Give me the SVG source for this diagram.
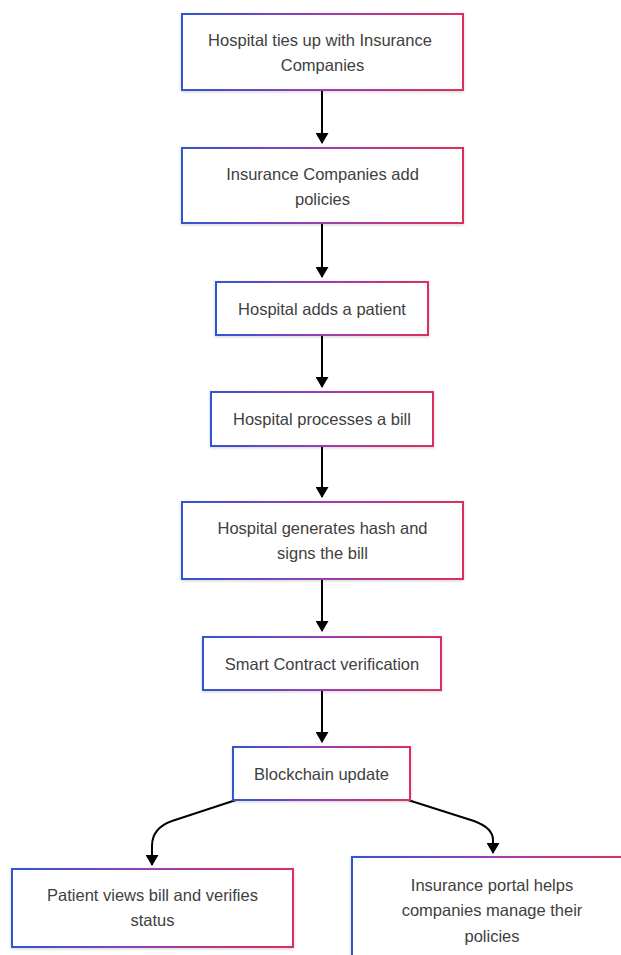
<svg xmlns="http://www.w3.org/2000/svg" width="621" height="955" viewBox="0 0 621 955">
  <defs>
    <linearGradient id="bd" x1="0" y1="0" x2="1" y2="0">
      <stop offset="0" stop-color="#2f55d4"/>
      <stop offset="0.5" stop-color="#9a3fb0"/>
      <stop offset="1" stop-color="#dc2f5c"/>
    </linearGradient>
    <filter id="sh" x="-10%" y="-20%" width="120%" height="140%">
      <feDropShadow dx="0" dy="1" stdDeviation="1.5" flood-color="#000" flood-opacity="0.18"/>
    </filter>
    <marker id="ah" viewBox="0 0 11 13" refX="10" refY="6.5" markerWidth="11" markerHeight="13" markerUnits="userSpaceOnUse" orient="auto">
      <path d="M0,0 L11,6.5 L0,13 Z" fill="#000"/>
    </marker>
    <style>
      .box { fill: #fff; stroke: url(#bd); stroke-width: 2; filter: url(#sh); }
      .t { font-family: "Liberation Sans", Arial, sans-serif; font-size: 16.5px; fill: #404040; text-anchor: middle; }
      .c { fill: none; stroke: #000; stroke-width: 2; marker-end: url(#ah); }
    </style>
  </defs>

  <g id="connectors">
    <path class="c" d="M322,90 L322,143"/>
    <path class="c" d="M322,223 L322,277"/>
    <path class="c" d="M322,335 L322,387"/>
    <path class="c" d="M322,446 L322,497"/>
    <path class="c" d="M322,579 L322,631"/>
    <path class="c" d="M322,690 L322,742"/>
    <path class="c" d="M236,800 L172,821 Q152,828 152,846 L152,865"/>
    <path class="c" d="M408,800 L474,821 Q493,828 493,840 L493,853"/>
  </g>

  <g id="n1">
    <rect class="box" x="182" y="14" width="281" height="76"/>
    <text class="t" x="320" y="46">Hospital ties up with Insurance</text>
    <text class="t" x="322.5" y="71">Companies</text>
  </g>
  <g id="n2">
    <rect class="box" x="182" y="148" width="281" height="75"/>
    <text class="t" x="322.5" y="180">Insurance Companies add</text>
    <text class="t" x="322.5" y="205">policies</text>
  </g>
  <g id="n3">
    <rect class="box" x="216" y="282" width="212" height="53"/>
    <text class="t" x="322" y="314.5">Hospital adds a patient</text>
  </g>
  <g id="n4">
    <rect class="box" x="211" y="392" width="222" height="54"/>
    <text class="t" x="322" y="425">Hospital processes a bill</text>
  </g>
  <g id="n5">
    <rect class="box" x="182" y="502" width="281" height="77"/>
    <text class="t" x="322.5" y="534">Hospital generates hash and</text>
    <text class="t" x="322.5" y="559">signs the bill</text>
  </g>
  <g id="n6">
    <rect class="box" x="203" y="637" width="238" height="53"/>
    <text class="t" x="322" y="669.5">Smart Contract verification</text>
  </g>
  <g id="n7">
    <rect class="box" x="233" y="747" width="177" height="53"/>
    <text class="t" x="321.5" y="779.5">Blockchain update</text>
  </g>
  <g id="n8">
    <rect class="box" x="12" y="869" width="281" height="78"/>
    <text class="t" x="152.5" y="901">Patient views bill and verifies</text>
    <text class="t" x="152.5" y="926">status</text>
  </g>
  <g id="n9">
    <rect class="box" x="352" y="857" width="280" height="106"/>
    <text class="t" x="492" y="891">Insurance portal helps</text>
    <text class="t" x="492" y="916">companies manage their</text>
    <text class="t" x="492" y="942">policies</text>
  </g>
</svg>
